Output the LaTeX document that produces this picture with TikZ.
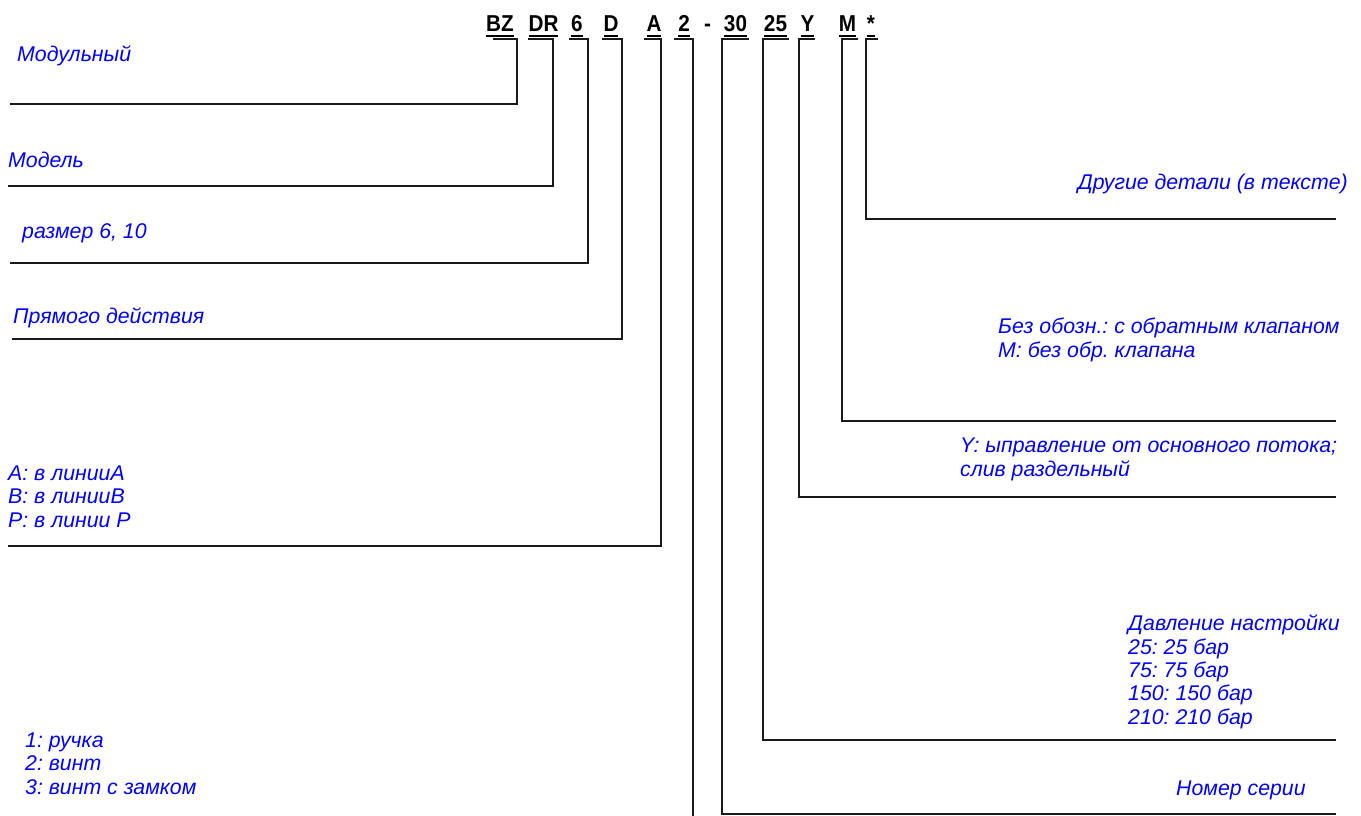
\documentclass[tikz,border=0pt]{standalone}
\usepackage{fontspec}
\usepackage{xcolor}
\usetikzlibrary{positioning,calc}
\newfontfamily\lblfont{Liberation Sans}
\newfontfamily\codefont{Liberation Sans}[FakeStretch=0.9]
\definecolor{lb}{HTML}{0000FF}
\definecolor{ln}{HTML}{1A1A1A}
\newsavebox{\cdbox}
\newcommand{\Cd}[1]{\sbox{\cdbox}{#1}\rlap{\rule[-5pt]{\wd\cdbox}{2pt}}\usebox{\cdbox}}
\frenchspacing

\begin{document}
\begin{tikzpicture}[x=1pt,y=-1pt,
    code/.style={font=\codefont\bfseries\fontsize{23}{26}\selectfont, inner sep=0pt, anchor=base},
    lbl/.style={font=\lblfont\itshape\fontsize{21.3}{23.3}\selectfont, text=lb, inner sep=0pt,
      align=left, anchor=base west},
    lead/.style={draw=ln, line width=1.6pt}]
  \useasboundingbox (0,0) rectangle (1361,816);

  % type code
  \node[code] (bz)   at (500,32)   {\Cd{BZ}};
  \node[code] (dr)   at (543.5,32) {\Cd{DR}};
  \node[code] (sz)   at (577,32)   {\Cd{6}};
  \node[code] (dd)   at (611,32)   {\Cd{D}};
  \node[code] (pt)   at (654,32)   {\Cd{A}};
  \node[code] (hd)   at (684,32)   {\Cd{2}};
  \node[code] (dash) at (707.5,32) {-};
  \node[code] (sr)   at (735.5,32) {\Cd{30}};
  \node[code] (pr)   at (775.5,32) {\Cd{25}};
  \node[code] (yy)   at (807.5,32) {\Cd{Y}};
  \node[code] (mm)   at (847.5,32) {\Cd{M}};
  \node[code] (st)   at (871,32)   {\Cd{*}};

  % left labels (multi-line: base = last line)
  \node[lbl] (mod)   at (17,62)  {Модульный};
  \node[lbl] (mdl)   at (8,167)  {Модель};
  \node[lbl] (size)  at (22,238) {размер 6, 10};
  \node[lbl] (dir)   at (13,323) {Прямого действия};
  \node[lbl] (port)  at (8,527)  {A: в линииA\\B: в линииB\\P: в линии P};
  \node[lbl] (adj)   at (25,794) {1: ручка\\2: винт\\3: винт с замком};

  % right labels
  \node[lbl, anchor=base east] (oth) at (1348,189) {Другие детали (в тексте)};
  \node[lbl] (chk)   at (998,357)  {Без обозн.: с обратным клапаном\\M: без обр. клапана};
  \node[lbl] (drn)   at (960,476)  {Y: ыправление от основного потока;\\слив раздельный};
  \node[lbl] (prs)   at (1128,724) {Давление настройки\\25: 25 бар\\75: 75 бар\\150: 150 бар\\210: 210 бар};
  \node[lbl] (ser)   at (1176,795) {Номер серии};

  % leaders
  \draw[lead] ([yshift=-7pt,xshift=7pt]bz.base west) -| (517,104) -- (10,104);
  \draw[lead] ([yshift=-7pt]dr.base west) -| (553,186) -- (8,186);
  \draw[lead] ([yshift=-7pt,xshift=-2pt]sz.base west) -| (588,263) -- (10,263);
  \draw[lead] ([yshift=-7pt,xshift=-1pt]dd.base west) -| (622,339) -- (12,339);
  \draw[lead] ([yshift=-7pt,xshift=-2pt]pt.base west) -| (661,546) -- (8,546);
  \draw[lead] ([yshift=-7pt,xshift=-4pt]hd.base west) -| (693,816);
  \draw[lead] ([yshift=-7pt,xshift=2pt]sr.base east) -| (722,814) -- (1336,814);
  \draw[lead] ([yshift=-7pt,xshift=2pt]pr.base east) -| (763,740) -- (1336,740);
  \draw[lead] ([yshift=-7pt]yy.base east) -| (799,497) -- (1336,497);
  \draw[lead] ([yshift=-7pt,xshift=2pt]mm.base east) -| (842,421) -- (1336,421);
  \draw[lead] ([yshift=-7pt,xshift=3pt]st.base east) -| (866,219) -- (1336,219);
\end{tikzpicture}
\end{document}
